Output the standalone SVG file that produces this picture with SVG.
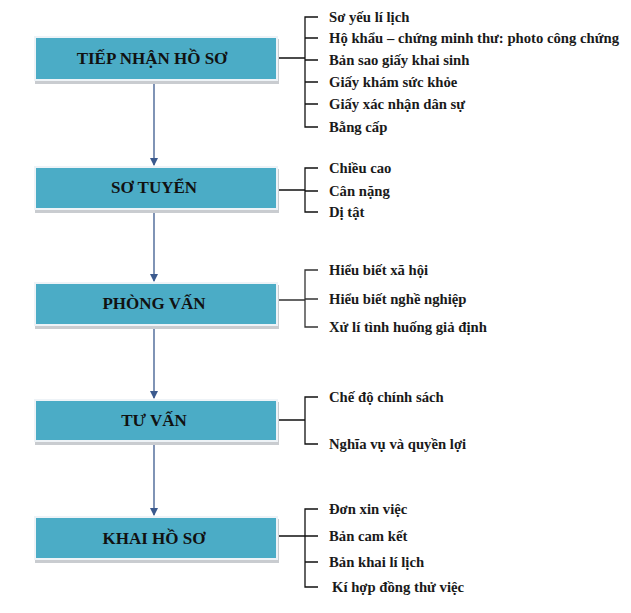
<svg xmlns="http://www.w3.org/2000/svg" width="631" height="613" viewBox="0 0 631 613">
<style>
.shadow{fill:#c9ccd0}
.box{fill:#4bacc6;stroke:#eef3f7;stroke-width:2}
.btxt{font-family:"Liberation Serif","Times New Roman",serif;font-weight:bold;font-size:17px;fill:#111;text-anchor:middle}
.itm{font-family:"Liberation Serif","Times New Roman",serif;font-weight:bold;font-size:14.7px;fill:#1a1a1a}
.br{fill:none;stroke:#111;stroke-width:1.3}
.ar{stroke:#3b5a8e;stroke-width:1.3;fill:none}
</style>
<defs>
<marker id="ah" markerWidth="8" markerHeight="8" refX="7" refY="4" orient="auto" markerUnits="userSpaceOnUse">
<path d="M0,0 L8,4 L0,8 Z" fill="#3b5a8e"/>
</marker>
</defs>
<rect width="631" height="613" fill="#fff"/>
<g id="connectors">
<line class="ar" x1="154" y1="82" x2="154" y2="165" marker-end="url(#ah)"/>
<line class="ar" x1="154" y1="211" x2="154" y2="281" marker-end="url(#ah)"/>
<line class="ar" x1="154" y1="328" x2="154" y2="398" marker-end="url(#ah)"/>
<line class="ar" x1="154" y1="444" x2="154" y2="515" marker-end="url(#ah)"/>
<path class="br" d="M277,58 H305 M318,17 H305 V127 H318 M305,38 H318 M305,60 H318 M305,82 H318 M305,104 H318"/>
<path class="br" d="M277,190 H305 M318,168 H305 V212 H318 M305,191 H318"/>
<path class="br" d="M277,300 H305 M318,270 H305 V327 H318 M305,299 H318" style="stroke:#333"/>
<path class="br" d="M277,420 H305 M318,397 H305 V444 H318"/>
<path class="br" d="M277,536 H305 M318,509 H305 V587 H318 M305,536 H318 M305,562 H318"/>
</g>
<g id="n1">
<rect class="shadow" x="35" y="39" width="244" height="45"/>
<rect class="box" x="35" y="37" width="242" height="43"/>
<text class="btxt" x="152" y="64">TIẾP NHẬN HỒ SƠ</text>
</g>
<g id="n1-items">
<text class="itm" x="329" y="22">Sơ yếu lí lịch</text>
<text class="itm" x="329" y="43">Hộ khẩu – chứng minh thư: photo công chứng</text>
<text class="itm" x="329" y="65">Bản sao giấy khai sinh</text>
<text class="itm" x="329" y="87">Giấy khám sức khỏe</text>
<text class="itm" x="329" y="109">Giấy xác nhận dân sự</text>
<text class="itm" x="329" y="132">Bằng cấp</text>
</g>
<g id="n2">
<rect class="shadow" x="35" y="169" width="244" height="44"/>
<rect class="box" x="35" y="167" width="242" height="42"/>
<text class="btxt" x="154" y="193">SƠ TUYỂN</text>
</g>
<g id="n2-items">
<text class="itm" x="329" y="173">Chiều cao</text>
<text class="itm" x="329" y="196">Cân nặng</text>
<text class="itm" x="329" y="217">Dị tật</text>
</g>
<g id="n3">
<rect class="shadow" x="35" y="285" width="244" height="44"/>
<rect class="box" x="35" y="283" width="242" height="42"/>
<text class="btxt" x="154" y="309">PHÒNG VẤN</text>
</g>
<g id="n3-items">
<text class="itm" x="329" y="275">Hiểu biết xã hội</text>
<text class="itm" x="329" y="304">Hiểu biết nghề nghiệp</text>
<text class="itm" x="329" y="332">Xử lí tình huống giả định</text>
</g>
<g id="n4">
<rect class="shadow" x="35" y="402" width="244" height="43"/>
<rect class="box" x="35" y="400" width="242" height="41"/>
<text class="btxt" x="154" y="426">TƯ VẤN</text>
</g>
<g id="n4-items">
<text class="itm" x="329" y="402">Chế độ chính sách</text>
<text class="itm" x="329" y="449">Nghĩa vụ và quyền lợi</text>
</g>
<g id="n5">
<rect class="shadow" x="35" y="519" width="244" height="44"/>
<rect class="box" x="35" y="517" width="242" height="42"/>
<text class="btxt" x="154" y="544">KHAI HỒ SƠ</text>
</g>
<g id="n5-items">
<text class="itm" x="329" y="514">Đơn xin việc</text>
<text class="itm" x="329" y="541">Bản cam kết</text>
<text class="itm" x="329" y="567">Bản khai lí lịch</text>
<text class="itm" x="332" y="592">Kí hợp đồng thử việc</text>
</g>
</svg>
